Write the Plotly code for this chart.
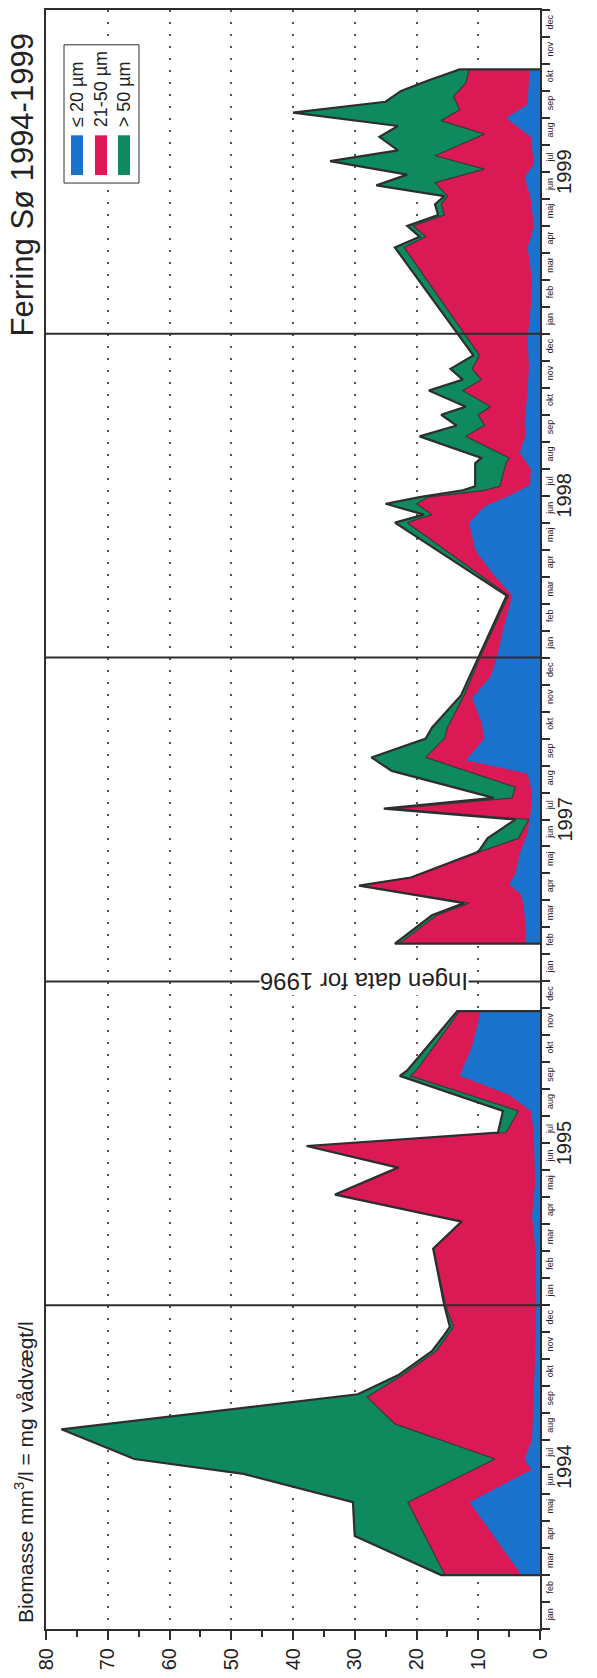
import plotly.graph_objects as go

# ---------------- data (months counted from 1 Jan 1994; 1996 is omitted, so 24 = 1 Jan 1997) -------------
month_names = ["jan", "feb", "mar", "apr", "maj", "jun", "jul", "aug", "sep", "okt", "nov", "dec"]
year_labels = ["1994", "1995", "1997", "1998", "1999"]
gap_text = "Ingen data for 1996"
series_names = ["≤ 20 µm", "21-50 µm", "> 50 µm"]

# Segment A: 1994-1995  (cumulative values: total, <=50 (blue+red), <=20 (blue))
tot_a_m = [2.0, 3.45, 4.7, 5.75, 6.3, 7.4, 8.7, 9.4, 10.3, 10.9, 11.2, 12.0, 14.1, 15.1, 16.1, 17.1, 17.9,
           18.4, 19.2, 20.5, 20.7, 22.9]
tot_a_v = [16.0, 30.0, 30.3, 48.0, 65.7, 77.5, 29.5, 23.0, 17.5, 15.5, 14.6, 15.5, 17.3, 12.7, 33.2, 23.0, 37.8,
           6.8, 6.0, 22.7, 21.5, 13.4]
red_a_m = [2.0, 4.7, 6.3, 7.6, 8.6, 9.4, 10.3, 11.2, 12.0, 14.1, 15.1, 16.1, 17.1, 17.9, 18.4, 19.2, 20.5, 20.7, 22.9]
red_a_v = [15.4, 21.4, 7.3, 23.5, 28.0, 22.3, 16.8, 14.0, 15.3, 17.2, 12.6, 33.0, 22.8, 37.6, 5.5, 3.5, 21.0, 20.0, 13.0]
blue_a_m = [2.0, 4.7, 5.9, 6.3, 7.0, 8.0, 10.0, 12.0, 14.0, 15.3, 16.5, 18.4, 19.2, 19.8, 20.5, 21.6, 22.9]
blue_a_v = [3.0, 11.4, 1.4, 2.5, 1.3, 1.1, 0.8, 0.6, 0.7, 1.3, 0.8, 1.0, 1.5, 5.0, 13.0, 11.0, 9.6]

# Segment B: 1997-1999
tot_b_m = [25.4, 26.45, 26.9, 27.55, 27.85, 28.8, 29.3, 30.0, 30.4, 30.8, 31.8, 32.3, 33.0, 33.4, 34.6, 36.0,
           38.3, 41.0, 41.3, 41.7, 41.95, 42.2, 42.35, 43.2, 43.4, 44.2, 44.6, 45.0, 45.3, 45.9, 46.3, 46.7, 47.2,
           51.2, 51.6, 52.0, 52.4, 52.8, 53.1, 53.5, 53.9, 54.4, 54.8, 55.3, 55.7, 56.2, 56.6, 57.0, 57.4, 57.8]
tot_b_v = [23.5, 17.5, 12.3, 29.3, 20.9, 10.0, 8.5, 4.0, 25.3, 7.5, 24.0, 27.3, 18.5, 17.5, 12.8, 10.0,
           5.4, 23.5, 18.8, 25.0, 19.5, 12.5, 10.5, 10.5, 9.5, 19.5, 13.5, 16.0, 12.0, 18.0, 12.5, 14.5, 10.8,
           23.5, 19.5, 21.5, 16.5, 17.0, 15.5, 26.5, 21.5, 34.0, 23.0, 26.0, 23.0, 40.0, 25.0, 22.5, 18.0, 13.0]
red_b_m = [25.4, 26.45, 26.9, 27.55, 27.85, 28.8, 29.3, 30.0, 30.4, 30.8, 31.2, 32.3, 33.0, 33.4, 34.6, 36.0,
           38.3, 41.0, 41.3, 41.7, 41.95, 42.2, 42.35, 43.2, 43.4, 44.2, 44.6, 45.0, 45.3, 45.9, 46.3, 46.7, 47.2,
           51.2, 51.6, 52.0, 52.4, 52.8, 53.1, 53.6, 54.1, 54.6, 55.4, 55.9, 56.3, 56.8, 57.3, 57.8]
red_b_v = [22.8, 16.7, 11.5, 29.3, 20.9, 9.8, 3.5, 1.8, 23.5, 4.5, 4.0, 18.5, 15.5, 15.0, 12.3, 9.7,
           5.1, 21.5, 17.5, 20.0, 18.0, 9.0, 6.5, 5.5, 5.0, 12.0, 9.0, 10.0, 8.0, 12.5, 9.5, 11.0, 9.8,
           22.0, 18.5, 20.5, 15.5, 16.0, 15.0, 17.0, 9.0, 17.0, 9.0, 16.0, 13.0, 14.0, 12.0, 11.5]
blue_b_m = [25.4, 26.5, 27.2, 27.6, 28.0, 28.8, 29.5, 30.3, 31.0, 31.7, 32.2, 33.0, 33.6, 34.5, 35.3, 36.0,
            37.0, 38.3, 39.2, 40.0, 41.0, 41.6, 42.0, 42.4, 43.0, 43.6, 44.2, 44.8, 45.8, 46.8, 47.8,
            49.0, 50.0, 51.2, 52.0, 53.0, 53.8, 54.3, 55.3, 56.0, 56.5, 57.3, 57.8]
blue_b_v = [2.3, 2.5, 3.0, 5.0, 4.0, 3.2, 2.0, 1.5, 1.3, 2.0, 12.0, 9.0, 9.5, 11.0, 8.0, 7.0,
            6.0, 4.5, 8.0, 10.5, 11.5, 9.0, 5.0, 1.6, 1.5, 3.3, 2.4, 2.5, 2.0, 1.8, 2.0,
            1.5, 1.3, 2.0, 1.0, 1.5, 2.5, 1.0, 1.5, 5.5, 2.0, 1.8, 1.7]

# ---------------- style ----------------
W, H = 597, 1678
ML, MR, MT, MB = 46, 57, 8, 42
PW, PH = W - ML - MR, H - MT - MB
FONT = "Liberation Sans, Arial, Helvetica, sans-serif"
C_BLUE, C_RED, C_GREEN = "#1a72cc", "#db1a55", "#0f8a5f"
C_LINE = "#2e2e2e"
N_MONTHS = 12 * len(year_labels)


def px(xp):
    return (xp - ML) / PW


def py(yp):
    return (H - MB - yp) / PH


fig = go.Figure()

segments = [
    (tot_a_m, tot_a_v, red_a_m, red_a_v, blue_a_m, blue_a_v),
    (tot_b_m, tot_b_v, red_b_m, red_b_v, blue_b_m, blue_b_v),
]
for tm, tv, rm, rv, bm, bv in segments:
    fig.add_trace(go.Scatter(x=tv, y=tm, mode="lines", fill="tozerox", fillcolor=C_GREEN,
                             line=dict(width=0, color=C_GREEN), showlegend=False, hoverinfo="skip"))
    fig.add_trace(go.Scatter(x=rv, y=rm, mode="lines", fill="tozerox", fillcolor=C_RED,
                             line=dict(width=1.2, color="#3a3a3a"), showlegend=False, hoverinfo="skip"))
    fig.add_trace(go.Scatter(x=bv, y=bm, mode="lines", fill="tozerox", fillcolor=C_BLUE,
                             line=dict(width=0, color=C_BLUE), showlegend=False, hoverinfo="skip"))
    # outline of the total, including the start/end edges down to zero
    fig.add_trace(go.Scatter(x=[0] + tv + [0], y=[tm[0]] + tm + [tm[-1]], mode="lines",
                             line=dict(width=2.2, color=C_LINE), showlegend=False, hoverinfo="skip"))

# year separator lines
for k in range(1, len(year_labels)):
    fig.add_shape(type="line", xref="x", yref="y", x0=80, x1=0, y0=12 * k, y1=12 * k,
                  line=dict(color=C_LINE, width=2), layer="above")

# gap text on the 1996 line
fig.add_annotation(x=28.5, y=24, xref="x", yref="y", text=gap_text, showarrow=False, textangle=180,
                   font=dict(family=FONT, size=24, color="#222"), bgcolor="white", borderpad=0)

# year labels on the right
for k, yl in enumerate(year_labels):
    fig.add_annotation(x=px(577), y=12 * k + 6, xref="paper", yref="y", text=yl, showarrow=False,
                       textangle=-90, font=dict(family=FONT, size=20, color="#222"))

# axis title and chart title (rotated)
fig.add_annotation(x=px(24), y=py(1632), xref="paper", yref="paper",
                   text="Biomasse mm<sup>3</sup>/l = mg vådvægt/l", showarrow=False, textangle=-90,
                   xanchor="center", yanchor="bottom", font=dict(family=FONT, size=21, color="#222"))
fig.add_annotation(x=px(22), y=py(30), xref="paper", yref="paper", text="Ferring Sø 1994-1999",
                   showarrow=False, textangle=-90, xanchor="center", yanchor="top",
                   font=dict(family=FONT, size=31, color="#222"))

# legend box (rotated)
fig.add_shape(type="rect", xref="paper", yref="paper", x0=px(64), x1=px(139), y0=py(182), y1=py(43),
              line=dict(color=C_LINE, width=1), fillcolor="white", layer="above")
for (xa, xb), col, name in zip([(71, 83), (95, 107), (118, 130)], [C_BLUE, C_RED, C_GREEN], series_names):
    fig.add_shape(type="rect", xref="paper", yref="paper", x0=px(xa), x1=px(xb), y0=py(174), y1=py(134),
                  line=dict(width=0), fillcolor=col, layer="above")
    fig.add_annotation(x=px((xa + xb) / 2), y=py(128), xref="paper", yref="paper", text=name,
                       showarrow=False, textangle=-90, xanchor="center", yanchor="bottom",
                       font=dict(family=FONT, size=18, color="#222"))

fig.update_layout(
    width=W, height=H, margin=dict(l=ML, r=MR, t=MT, b=MB),
    paper_bgcolor="white", plot_bgcolor="white", showlegend=False,
    font=dict(family=FONT, color="#222"),
    xaxis=dict(range=[80, 0], tickvals=list(range(0, 81, 10)), tickangle=-90,
               tickfont=dict(size=20), ticks="outside", ticklen=9, tickwidth=2, tickcolor=C_LINE,
               showline=True, linewidth=2, linecolor=C_LINE, mirror=True,
               showgrid=True, gridcolor="#555", gridwidth=1.5, griddash="2px,10px", zeroline=False,
               minor=dict(tickvals=list(range(5, 80, 10)), ticks="outside", ticklen=6, tickwidth=2,
                          tickcolor=C_LINE, showgrid=False)),
    yaxis=dict(range=[0, N_MONTHS], side="right",
               tickvals=[i + 0.5 for i in range(N_MONTHS)],
               ticktext=[month_names[i % 12] for i in range(N_MONTHS)],
               tickangle=-90, tickfont=dict(size=9, color="#222"), ticks="", ticklen=0,
               showline=True, linewidth=2, linecolor=C_LINE, mirror=True,
               showgrid=False, zeroline=False,
               minor=dict(tickvals=list(range(0, N_MONTHS + 1)), ticks="outside", ticklen=8, tickwidth=1.5,
                          tickcolor=C_LINE, showgrid=False)),
)

fig.write_html("out.html")
